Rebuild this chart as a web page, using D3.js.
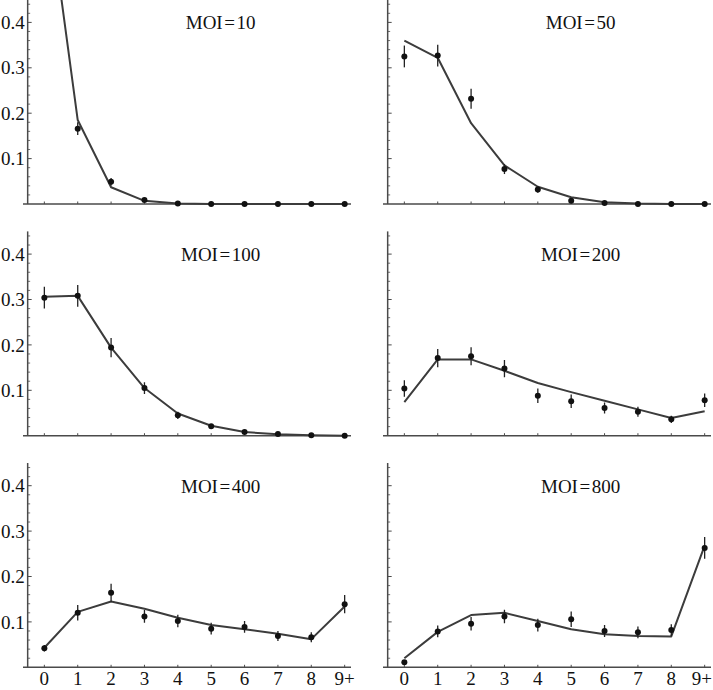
<!DOCTYPE html>
<html>
<head>
<meta charset="utf-8">
<script src="https://cdn.jsdelivr.net/npm/d3@7/dist/d3.min.js"></script>
<style>
  body { margin: 0; background: #fff; }
  svg text { font-family: "Liberation Serif", "Times New Roman", serif; fill: #111; }
</style>
</head>
<body>
<div id="chart"></div>
<script>
// categories on the x axis
const categories = ["0", "1", "2", "3", "4", "5", "6", "7", "8", "9+"];
const moiValues = [10, 50, 100, 200, 400, 800];
const yTicksMajor = [0.1, 0.2, 0.3, 0.4];

const obs10 = [0.74, 0.166, 0.049, 0.009, 0.001, 0, 0, 0, 0, 0];
const err10 = [0.03, 0.014, 0.008, 0.004, 0, 0, 0, 0, 0, 0];
const fit10 = [0.73, 0.185, 0.037, 0.007, 0.001, 0, 0, 0, 0, 0];

const obs50 = [0.325, 0.327, 0.232, 0.077, 0.032, 0.007, 0.002, 0, 0, 0];
const err50 = [0.024, 0.024, 0.022, 0.011, 0.007, 0.004, 0, 0, 0, 0];
const fit50 = [0.36, 0.322, 0.178, 0.085, 0.038, 0.015, 0.004, 0.001, 0, 0];

const obs100 = [0.304, 0.308, 0.194, 0.105, 0.045, 0.021, 0.008, 0.004, 0.001, 0];
const err100 = [0.024, 0.024, 0.021, 0.013, 0.008, 0.005, 0.003, 0, 0, 0];
const fit100 = [0.306, 0.308, 0.194, 0.105, 0.049, 0.022, 0.008, 0.003, 0.001, 0];

const obs200 = [0.104, 0.171, 0.175, 0.148, 0.088, 0.076, 0.061, 0.053, 0.036, 0.078];
const err200 = [0.018, 0.02, 0.02, 0.019, 0.016, 0.015, 0.012, 0.011, 0.008, 0.015];
const fit200 = [0.074, 0.168, 0.168, 0.143, 0.116, 0.096, 0.077, 0.058, 0.039, 0.054];

const obs400 = [0.042, 0.12, 0.164, 0.112, 0.102, 0.085, 0.089, 0.069, 0.066, 0.139];
const err400 = [0.007, 0.017, 0.02, 0.014, 0.014, 0.013, 0.013, 0.011, 0.011, 0.02];
const fit400 = [0.043, 0.122, 0.145, 0.129, 0.109, 0.093, 0.084, 0.074, 0.062, 0.134];

const obs800 = [0.011, 0.079, 0.096, 0.112, 0.093, 0.106, 0.08, 0.077, 0.082, 0.263];
const err800 = [0.005, 0.013, 0.015, 0.015, 0.014, 0.017, 0.013, 0.013, 0.013, 0.024];
const fit800 = [0.02, 0.078, 0.115, 0.12, 0.102, 0.084, 0.073, 0.069, 0.068, 0.268];

const panels = [
  { moi: moiValues[0], obs: obs10, err: err10, fit: fit10 },
  { moi: moiValues[1], obs: obs50, err: err50, fit: fit50 },
  { moi: moiValues[2], obs: obs100, err: err100, fit: fit100 },
  { moi: moiValues[3], obs: obs200, err: err200, fit: fit200 },
  { moi: moiValues[4], obs: obs400, err: err400, fit: fit400 },
  { moi: moiValues[5], obs: obs800, err: err800, fit: fit800 }
];

// --- layout ---
const W = 713, H = 690;
const colLeft = [23, 383];          // left end of x-axis line
const rowZero = [204, 435.7, 667.3]; // pixel y of value 0
const axisW = 328;
const plotH = 204.3;                 // height for 0.45
const axisColor = "#4a4a4a";
const lineColor = "#3c3c3c";
const fontSize = 19;

const svg = d3.select("#chart").append("svg")
  .attr("width", W).attr("height", H);

svg.append("defs").selectAll("clipPath")
  .data(panels).enter().append("clipPath")
  .attr("id", (d, i) => "clip" + i)
  .append("rect")
  .attr("x", (d, i) => colLeft[i % 2])
  .attr("y", (d, i) => rowZero[Math.floor(i / 2)] - plotH)
  .attr("width", axisW)
  .attr("height", plotH + 4);

panels.forEach((p, i) => {
  const col = i % 2, row = Math.floor(i / 2);
  const x = d3.scaleLinear().domain([-0.64, 9.19]).range([colLeft[col], colLeft[col] + axisW]);
  const y = d3.scaleLinear().domain([0, 0.45]).range([rowZero[row], rowZero[row] - plotH]);
  const g = svg.append("g");
  const idx = d3.range(categories.length);

  // y axis (inward ticks)
  const yMinor = d3.range(1, 23).map(k => k * 0.02).filter(v => Math.abs(v * 10 - Math.round(v * 10)) > 1e-6);
  const yAxisG = g.append("g").attr("transform", `translate(${x(-0.5)},0)`);
  yAxisG.append("line")
    .attr("y1", y(0)).attr("y2", y(0.45))
    .attr("stroke", axisColor).attr("stroke-width", 1.5);
  yAxisG.selectAll(".minor").data(yMinor).enter().append("line")
    .attr("x1", 0).attr("x2", 2.5)
    .attr("y1", d => y(d)).attr("y2", d => y(d))
    .attr("stroke", axisColor).attr("stroke-width", 0.8);
  yAxisG.selectAll(".major").data(yTicksMajor).enter().append("line")
    .attr("x1", 0).attr("x2", 4)
    .attr("y1", d => y(d)).attr("y2", d => y(d))
    .attr("stroke", axisColor).attr("stroke-width", 1);
  if (col === 0) {
    yAxisG.selectAll(".lab").data(yTicksMajor).enter().append("text")
      .attr("x", -3).attr("y", d => y(d)).attr("dy", "0.35em")
      .attr("text-anchor", "end")
      .style("font-size", fontSize + "px")
      .text(d => d3.format(".1f")(d));
  }

  // x axis
  g.append("line")
    .attr("x1", x.range()[0]).attr("x2", x.range()[1])
    .attr("y1", y(0)).attr("y2", y(0))
    .attr("stroke", axisColor).attr("stroke-width", 1.5);
  g.selectAll(".xtick").data(idx).enter().append("line")
    .attr("x1", d => x(d)).attr("x2", d => x(d))
    .attr("y1", y(0)).attr("y2", y(0) - 2.5)
    .attr("stroke", axisColor).attr("stroke-width", 1);
  if (row === 2) {
    g.selectAll(".xlab").data(idx).enter().append("text")
      .attr("x", d => x(d)).attr("y", y(0) + 18)
      .attr("text-anchor", "middle")
      .style("font-size", fontSize + "px")
      .text(d => categories[d])
      .each(function(d) {
        // keep the last label inside the page
        const w = this.getComputedTextLength();
        if (x(d) + w / 2 > W - 1) d3.select(this).attr("x", W - 1 - w / 2);
      });
  }

  const plot = g.append("g").attr("clip-path", `url(#clip${i})`);

  // model fit
  plot.append("path")
    .datum(idx)
    .attr("fill", "none")
    .attr("stroke", lineColor)
    .attr("stroke-width", 2)
    .attr("stroke-linejoin", "round")
    .attr("d", d3.line().x(d => x(d)).y(d => y(p.fit[d])));

  // error bars
  plot.selectAll(".err").data(idx).enter().append("line")
    .attr("x1", d => x(d)).attr("x2", d => x(d))
    .attr("y1", d => y(p.obs[d] - p.err[d])).attr("y2", d => y(p.obs[d] + p.err[d]))
    .attr("stroke", "#222").attr("stroke-width", 1.3);

  // observed points
  plot.selectAll(".pt").data(idx).enter().append("circle")
    .attr("cx", d => x(d)).attr("cy", d => y(p.obs[d]))
    .attr("r", 3)
    .attr("fill", "#111");

  // title
  g.append("text")
    .attr("x", x(-0.5) + 193).attr("y", y(0.45) + 29.5)
    .attr("text-anchor", "middle")
    .style("font-size", fontSize + "px")
    .text(`MOI\u200A=\u200A${p.moi}`);
});
</script>
</body>
</html>
